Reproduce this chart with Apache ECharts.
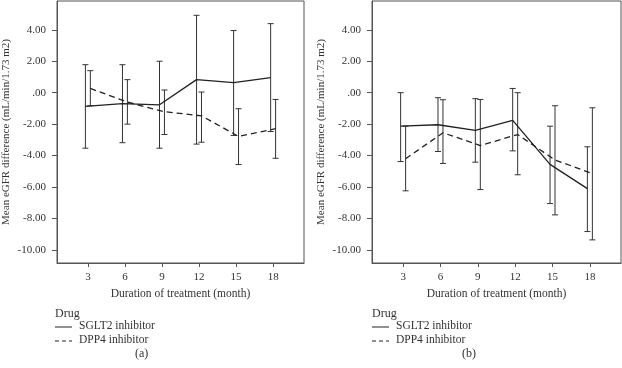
<!DOCTYPE html>
<html>
<head>
<meta charset="utf-8">
<script src="https://cdn.jsdelivr.net/npm/echarts@6/dist/echarts.min.js"></script>
<style>
  html, body { margin: 0; padding: 0; background: #fff; }
  #chart { width: 622px; height: 368px; }
</style>
</head>
<body>
<div id="chart"></div>
<script>
// months on the x axis
var months = [3, 6, 9, 12, 15, 18];
var yTicks = [-10, -8, -6, -4, -2, 0, 2, 4];
var drugNames = ["SGLT2 inhibitor", "DPP4 inhibitor"];

// panel (a)
var aSgltMean = [-0.87, -0.70, -0.77, 0.83, 0.64, 0.96];
var aSgltLow = [-3.53, -3.18, -3.53, -3.27, -2.72, -2.47];
var aSgltHigh = [1.78, 1.78, 2.00, 4.92, 3.95, 4.39];
var aDppMean = [0.27, -0.60, -1.21, -1.47, -2.78, -2.29];
var aDppLow = [-0.83, -2.00, -2.66, -3.15, -4.57, -4.17];
var aDppHigh = [1.40, 0.83, 0.17, 0.04, -1.02, -0.43];

// panel (b)
var bSgltMean = [-2.13, -2.04, -2.40, -1.76, -4.56, -6.10];
var bSgltLow = [-4.38, -3.74, -4.42, -3.70, -7.05, -8.83];
var bSgltHigh = [0.00, -0.32, -0.38, 0.27, -2.13, -3.44];
var bDppMean = [-4.20, -2.55, -3.36, -2.66, -4.28, -5.14];
var bDppLow = [-6.24, -4.50, -6.16, -5.22, -7.77, -9.36];
var bDppHigh = [-2.13, -0.45, -0.43, 0.00, -0.83, -0.96];

var FONT = "Liberation Serif";
var TXT = "#333";
var LINE = "#222";
var OFF = 0.2;

function pts(mean, off) {
  return months.map(function (m, i) { return [m + off, mean[i]]; });
}
function bars(low, high, off) {
  return months.map(function (m, i) { return [m + off, low[i], high[i]]; });
}

function errRender(params, api) {
  var lo = api.coord([api.value(0), api.value(1)]);
  var hi = api.coord([api.value(0), api.value(2)]);
  var w = 3;
  var st = { stroke: "#333", lineWidth: 1 };
  return {
    type: "group",
    children: [
      { type: "line", shape: { x1: hi[0], y1: hi[1], x2: lo[0], y2: lo[1] }, style: st },
      { type: "line", shape: { x1: hi[0] - w, y1: hi[1], x2: hi[0] + w, y2: hi[1] }, style: st },
      { type: "line", shape: { x1: lo[0] - w, y1: lo[1], x2: lo[0] + w, y2: lo[1] }, style: st }
    ]
  };
}

function xAxisFor(idx) {
  return {
    gridIndex: idx,
    type: "value",
    min: 0.5,
    max: 20.5,
    name: "Duration of treatment (month)",
    nameLocation: "middle",
    nameGap: 23,
    nameTextStyle: { fontFamily: FONT, fontSize: 11.5, color: TXT, verticalAlign: "top" },
    axisLine: { show: true, onZero: false, lineStyle: { color: "#555" } },
    axisTick: { show: true, length: 4, customValues: months, lineStyle: { color: "#555" } },
    axisLabel: {
      customValues: months, margin: 9,
      fontFamily: FONT, fontSize: 11, color: TXT
    },
    splitLine: { show: false }
  };
}

function yAxisFor(idx) {
  return {
    gridIndex: idx,
    type: "value",
    min: -10.83,
    max: 5.83,
    name: "Mean eGFR difference (mL/min/1.73 m2)",
    nameLocation: "middle",
    nameGap: 45,
    nameTextStyle: { fontFamily: FONT, fontSize: 11, color: TXT },
    axisLine: { show: true, onZero: false, lineStyle: { color: "#555" } },
    axisTick: { show: true, length: 5, customValues: yTicks, lineStyle: { color: "#555" } },
    axisLabel: {
      customValues: yTicks, margin: 11,
      fontFamily: FONT, fontSize: 11, color: TXT,
      formatter: function (v) { return v === 0 ? ".00" : v.toFixed(2); }
    },
    splitLine: { show: false }
  };
}

function lineSeries(name, idx, mean, off, dashed) {
  return {
    name: name,
    type: "line",
    xAxisIndex: idx,
    yAxisIndex: idx,
    data: pts(mean, off),
    symbol: "none",
    lineStyle: { color: LINE, width: 1.3, type: dashed ? [6, 4] : "solid" },
    itemStyle: { color: LINE },
    z: 3
  };
}

function errSeries(idx, low, high, off) {
  return {
    type: "custom",
    xAxisIndex: idx,
    yAxisIndex: idx,
    data: bars(low, high, off),
    renderItem: errRender,
    z: 2
  };
}

// legend block drawn as graphic: "Drug" heading + two keyed rows
function legendBlock(x, tag, tagX) {
  var items = [
    { type: "text", left: x, top: 308, style: { text: "Drug", font: "12px " + FONT, fill: TXT } },
    { type: "text", left: tagX, top: 348, style: { text: tag, font: "12px " + FONT, fill: TXT } }
  ];
  drugNames.forEach(function (n, i) {
    var y = 327 + i * 14;
    items.push({
      type: "line",
      shape: { x1: x, y1: y, x2: x + 17, y2: y },
      style: { stroke: LINE, lineWidth: 1, lineDash: i === 1 ? [4, 3] : null }
    });
    items.push({
      type: "text", left: x + 24, top: y - 7,
      style: { text: n, font: "11.5px " + FONT, fill: TXT }
    });
  });
  return items;
}

var chart = echarts.init(document.getElementById("chart"), null, { renderer: "canvas" });
chart.setOption({
  backgroundColor: "#fff",
  animation: false,
  grid: [
    { left: 55, top: 1, width: 249, height: 262, show: true, borderColor: "#555", borderWidth: 1 },
    { left: 372, top: 1, width: 249, height: 262, show: true, borderColor: "#555", borderWidth: 1 }
  ],
  xAxis: [xAxisFor(0), xAxisFor(1)],
  yAxis: [yAxisFor(0), yAxisFor(1)],
  graphic: legendBlock(55, "(a)", 135).concat(legendBlock(372, "(b)", 462)),
  series: [
    errSeries(0, aSgltLow, aSgltHigh, -OFF),
    errSeries(0, aDppLow, aDppHigh, OFF),
    lineSeries(drugNames[0], 0, aSgltMean, -OFF, false),
    lineSeries(drugNames[1], 0, aDppMean, OFF, true),
    errSeries(1, bSgltLow, bSgltHigh, -OFF),
    errSeries(1, bDppLow, bDppHigh, OFF),
    lineSeries(drugNames[0], 1, bSgltMean, -OFF, false),
    lineSeries(drugNames[1], 1, bDppMean, OFF, true)
  ]
});
</script>
</body>
</html>
